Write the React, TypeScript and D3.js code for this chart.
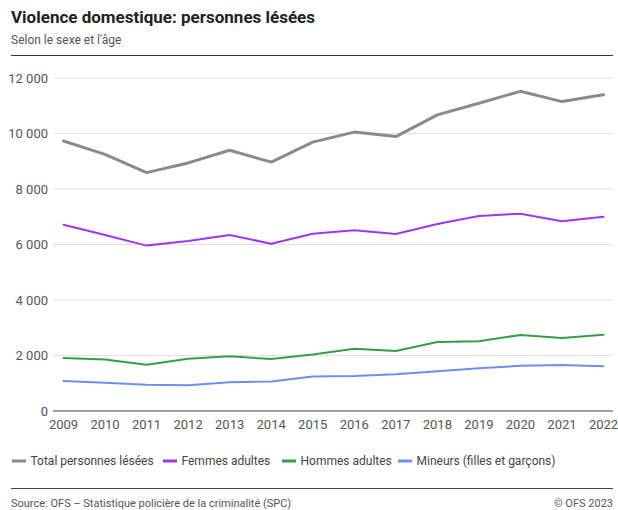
import React from "react";
import * as d3 from "d3";

const years = [2009, 2010, 2011, 2012, 2013, 2014, 2015, 2016, 2017, 2018, 2019, 2020, 2021, 2022];
const total = [9730, 9250, 8590, 8940, 9395, 8970, 9690, 10050, 9890, 10670, 11090, 11520, 11150, 11400];
const femmes = [6715, 6340, 5960, 6130, 6340, 6030, 6390, 6510, 6380, 6740, 7030, 7110, 6840, 7000];
const hommes = [1910, 1860, 1670, 1885, 1970, 1875, 2040, 2245, 2160, 2490, 2510, 2740, 2630, 2750];
const mineurs = [1080, 1020, 950, 925, 1035, 1060, 1240, 1260, 1320, 1430, 1540, 1630, 1660, 1610];
const yTicks = [0, 2000, 4000, 6000, 8000, 10000, 12000];
const seriesNames = ["Total personnes lésées", "Femmes adultes", "Hommes adultes", "Mineurs (filles et garçons)"];
const seriesColors = ["#8a8a8a", "#a035ee", "#32a048", "#6f8ee8"];
const seriesWidths = [3, 2, 2, 2];

const W = 618, H = 510;
const FONT = "Roboto, 'Open Sans', sans-serif";

export default function App() {
  const x = d3.scaleLinear().domain([2009, 2022]).range([63.5, 603.5]);
  const y = d3.scaleLinear().domain([0, 12000]).range([411, 78]);
  const seriesData = [total, femmes, hommes, mineurs];
  const line = d3.line<number>().x((_, i) => x(years[i])).y((d) => y(d));
  const fmt = (v: number) => d3.format(",")(v).replace(/,/g, " ");
  const legendX = [12, 163, 282, 398];

  return (
    <svg width={W} height={H} style={{ position: "absolute", left: 0, top: 0, background: "#fff" }} fontFamily={FONT}>
      <text x={11} y={23} fontSize={17} fontWeight={700} fill="#222">Violence domestique: personnes lésées</text>
      <text x={11} y={44} fontSize={12} fill="#555">Selon le sexe et l'âge</text>
      <line x1={11} x2={613} y1={55.5} y2={55.5} stroke="#333" strokeWidth={1.2} />

      {yTicks.map((t) => (
        <g key={t}>
          {t !== 0 && <line x1={53} x2={613} y1={y(t)} y2={y(t)} stroke="#e0e0e0" strokeWidth={1} />}
          <text x={48} y={y(t) + 4.5} textAnchor="end" fontSize={13} fill="#555">{fmt(t)}</text>
        </g>
      ))}
      <line x1={53} x2={613} y1={y(0)} y2={y(0)} stroke="#444" strokeWidth={1.2} />
      {years.map((yr) => (
        <text key={yr} x={x(yr)} y={429} textAnchor="middle" fontSize={13} fill="#555">{yr}</text>
      ))}

      {seriesData.map((s, i) => (
        <path key={i} d={line(s) || ""} fill="none" stroke={seriesColors[i]} strokeWidth={seriesWidths[i]} strokeLinejoin="round" strokeLinecap="round" />
      ))}

      {seriesNames.map((n, i) => (
        <g key={n}>
          <line x1={legendX[i]} x2={legendX[i] + 14} y1={461} y2={461} stroke={seriesColors[i]} strokeWidth={3} />
          <text x={legendX[i] + 18.5} y={465} fontSize={12} fill="#444">{n}</text>
        </g>
      ))}

      <line x1={11} x2={613} y1={488.5} y2={488.5} stroke="#444" strokeWidth={1.2} />
      <text x={11} y={507} fontSize={11} fill="#555">Source: OFS – Statistique policière de la criminalité (SPC)</text>
      <text x={613} y={507} fontSize={11} fill="#555" textAnchor="end">© OFS 2023</text>
    </svg>
  );
}
